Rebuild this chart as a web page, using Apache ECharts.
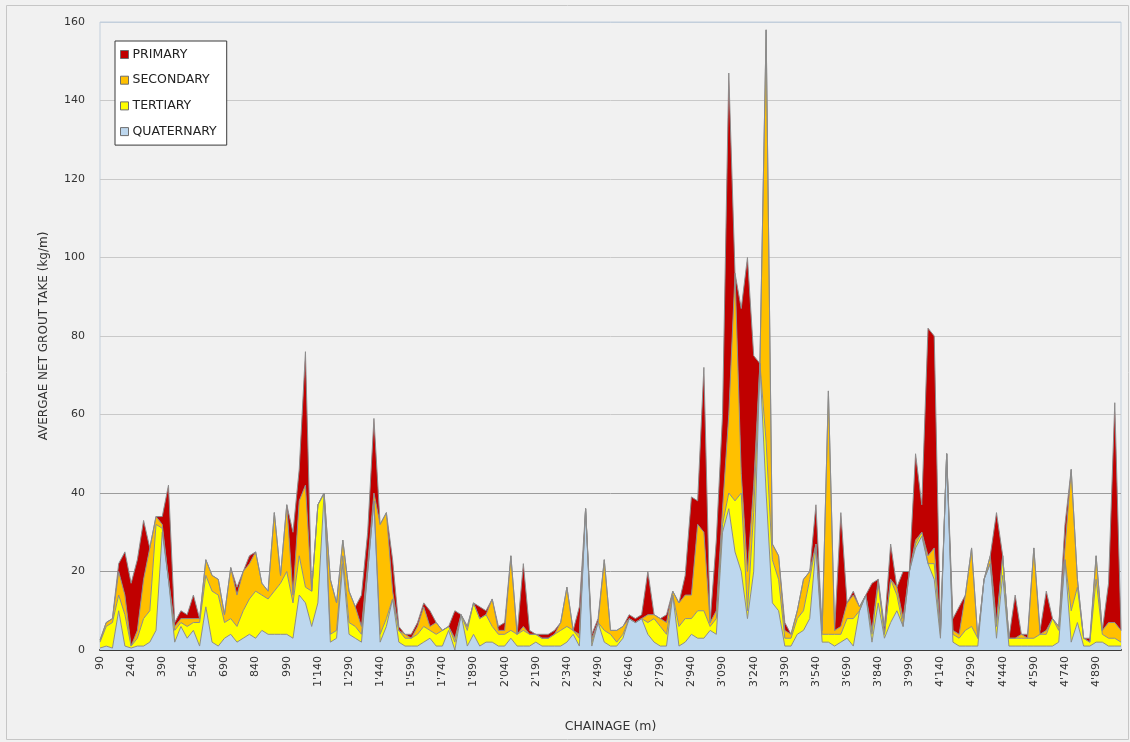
<!DOCTYPE html>
<html>
<head>
<meta charset="utf-8">
<title>Average net grout take by chainage</title>
<script src="https://cdn.jsdelivr.net/npm/echarts@6/dist/echarts.min.js"></script>
<style>
  html, body { margin: 0; padding: 0; background: #ffffff; }
  #chart { width: 1130px; height: 742px; }
</style>
</head>
<body>
<div id="chart"></div>
<script>
// Chainage (m) of each grouting section
const CHAINAGE = [
  90, 120, 150, 180, 210, 240, 270, 300, 330, 360,
  390, 420, 450, 480, 510, 540, 570, 600, 630, 660,
  690, 720, 750, 780, 810, 840, 870, 900, 930, 960,
  990, 1020, 1050, 1080, 1110, 1140, 1170, 1200, 1230, 1260,
  1290, 1320, 1350, 1380, 1410, 1440, 1470, 1500, 1530, 1560,
  1590, 1620, 1650, 1680, 1710, 1740, 1770, 1800, 1830, 1860,
  1890, 1920, 1950, 1980, 2010, 2040, 2070, 2100, 2130, 2160,
  2190, 2220, 2250, 2280, 2310, 2340, 2370, 2400, 2430, 2460,
  2490, 2520, 2550, 2580, 2610, 2640, 2670, 2700, 2730, 2760,
  2790, 2820, 2850, 2880, 2910, 2940, 2970, 3000, 3030, 3060,
  3090, 3120, 3150, 3180, 3210, 3240, 3270, 3300, 3330, 3360,
  3390, 3420, 3450, 3480, 3510, 3540, 3570, 3600, 3630, 3660,
  3690, 3720, 3750, 3780, 3810, 3840, 3870, 3900, 3930, 3960,
  3990, 4020, 4050, 4080, 4110, 4140, 4170, 4200, 4230, 4260,
  4290, 4320, 4350, 4380, 4410, 4440, 4470, 4500, 4530, 4560,
  4590, 4620, 4650, 4680, 4710, 4740, 4770, 4800, 4830, 4860,
  4890, 4920, 4950, 4980, 5010
];

// Average net grout take (kg/m) per grouting stage
const QUATERNARY = [
  0.5, 1, 0.5, 10, 1, 0.5, 1, 1, 2, 5,
  30, 18, 2, 6, 3, 5, 1, 11, 2, 1,
  3, 4, 2, 3, 4, 3, 5, 4, 4, 4,
  4, 3, 14, 12, 6, 12, 40, 2, 3, 22,
  4, 3, 2, 20, 38, 2, 6, 13, 2, 1,
  1, 1, 2, 3, 1, 1, 5, 0, 9, 1,
  4, 1, 2, 2, 1, 1, 3, 1, 1, 1,
  2, 1, 1, 1, 1, 2, 4, 1, 36, 1,
  7, 2, 1, 1, 3, 8, 7, 8, 4, 2,
  1, 1, 14, 1, 2, 4, 3, 3, 5, 4,
  30, 36, 25, 20, 8, 20, 73, 40, 12, 10,
  1, 1, 4, 5, 8, 26, 2, 2, 1, 2,
  3, 1, 10, 14, 2, 12, 3, 7, 10, 6,
  20, 26, 29, 22, 18, 3, 50, 2, 1, 1,
  1, 1, 18, 22, 3, 19, 1, 1, 1, 1,
  1, 1, 1, 1, 2, 23, 2, 7, 1, 1,
  2, 2, 1, 1, 1
];
const TERTIARY = [
  1.5, 5, 6.5, 4, 8, 0.5, 2, 7, 8, 27,
  1, 0, 3, 1, 3, 2, 6, 8, 13, 13,
  4, 4, 4, 7, 9, 12, 9, 9, 11, 13,
  16, 9, 10, 4, 9, 25, 0, 2, 2, 2,
  3, 3, 2, 0, 0, 2, 2, 0, 3, 2,
  2, 3, 4, 2, 3, 4, 1, 2, 0, 4,
  8, 7, 7, 4, 3, 3, 2, 3, 4, 3,
  2, 2, 2, 3, 4, 4, 1, 2, 0, 1,
  0, 3, 3, 1, 1, 0, 0, 0, 3, 6,
  5, 3, 0, 5, 6, 4, 7, 7, 1, 4,
  2, 4, 13, 20, 2, 15, 0, 13, 11, 8,
  2, 2, 4, 5, 10, 1, 2, 2, 3, 2,
  5, 7, 0, 0, 2, 5, 1, 11, 4, 0,
  0, 1, 1, 0, 4, 1, 0, 2, 2, 4,
  5, 2, 0, 0, 3, 5, 2, 2, 2, 2,
  2, 3, 3, 7, 3, 0, 8, 9, 2, 1,
  16, 2, 2, 2, 1
];
const SECONDARY = [
  0.5, 1, 1, 6, 5, 0, 2, 10, 16, 2,
  1, 0, 1, 1, 2, 1, 1, 4, 4, 4,
  2, 13, 8, 10, 9, 10, 3, 2, 20, 2,
  17, 2, 14, 26, 0, 0, 0, 14, 7, 4,
  8, 5, 2, 2, 2, 28, 27, 2, 0, 1,
  0, 2, 5, 1, 3, 0, 0, 1, 0, 1,
  0, 0, 0, 7, 1, 1, 19, 0, 1, 0,
  0, 0, 0, 0, 2, 10, 0, 1, 0, 1,
  0, 18, 1, 3, 2, 0, 0, 0, 2, 1,
  2, 3, 1, 6, 6, 6, 22, 20, 1, 2,
  4, 20, 58, 5, 10, 7, 0, 105, 4, 6,
  2, 1, 2, 8, 2, 0, 1, 62, 1, 2,
  4, 6, 1, 0, 1, 1, 0, 0, 2, 2,
  0, 1, 0, 2, 4, 1, 0, 1, 1, 9,
  20, 0, 0, 2, 1, 0, 0, 0, 1, 0,
  23, 0, 1, 0, 1, 3, 36, 2, 0, 0,
  6, 1, 4, 4, 3
];
const PRIMARY = [
  0, 0, 0, 2, 11, 16, 18, 15, 0, 0,
  2, 24, 1, 2, 1, 6, 0, 0, 0, 0,
  0, 0, 2, 0, 2, 0, 0, 0, 0, 0,
  0, 16, 8, 34, 0, 0, 0, 0, 0, 0,
  0, 0, 8, 8, 19, 0, 0, 8, 1, 0,
  1, 1, 1, 4, 0, 0, 0, 7, 0, 0,
  0, 3, 1, 0, 1, 2, 0, 0, 16, 1,
  0, 1, 1, 1, 0, 0, 0, 7, 0, 1,
  1, 0, 0, 0, 0, 1, 1, 1, 11, 0,
  0, 2, 0, 0, 5, 25, 6, 42, 0, 18,
  24, 87, 0, 42, 80, 33, 0, 0, 0, 0,
  2, 0, 0, 0, 0, 10, 0, 0, 0, 29,
  0, 1, 0, 0, 12, 0, 2, 9, 0, 12,
  0, 22, 7, 58, 54, 0, 0, 3, 7, 0,
  0, 0, 0, 0, 28, 0, 0, 11, 0, 1,
  0, 1, 10, 0, 0, 6, 0, 0, 0, 1,
  0, 0, 10, 56, 0
];

const Y_TICKS = [0, 20, 40, 60, 80, 100, 120, 140, 160];

const FONT = 'DejaVu Sans';

// Chainage label with an apostrophe as thousands separator, e.g. 1'140
function chainageLabel(v) {
  const n = Number(v);
  if (n < 1000) return String(n);
  const rest = String(n % 1000).padStart(3, '0');
  return Math.floor(n / 1000) + "'" + rest;
}

function stageSeries(name, data, color) {
  return {
    name: name,
    type: 'line',
    stack: 'take',
    data: data,
    showSymbol: false,
    symbol: 'none',
    smooth: false,
    lineStyle: { color: '#8c8c8c', width: 1 },
    itemStyle: { color: color, borderColor: '#777777', borderWidth: 1 },
    areaStyle: { color: color, opacity: 1 },
    emphasis: { disabled: true }
  };
}

const chart = echarts.init(document.getElementById('chart'), null, { renderer: 'canvas' });

chart.setOption({
  animation: false,
  backgroundColor: '#f1f1f1',
  textStyle: { fontFamily: FONT },
  graphic: [{
    type: 'rect',
    shape: { x: 6.5, y: 5.5, width: 1122, height: 734 },
    style: { fill: 'none', stroke: '#c6c6c6', lineWidth: 1 },
    silent: true,
    z: 0
  }],
  grid: {
    left: 100, right: 9, top: 22, bottom: 92,
    show: true,
    backgroundColor: '#f1f1f1',
    borderColor: '#c3cfdc',
    borderWidth: 1
  },
  legend: {
    orient: 'vertical',
    left: 115,
    top: 41,
    padding: [7, 10, 7, 5],
    itemGap: 12.7,
    itemWidth: 8,
    itemHeight: 8,
    icon: 'rect',
    backgroundColor: '#ffffff',
    borderColor: '#3a3a3a',
    borderWidth: 1,
    data: ['PRIMARY', 'SECONDARY', 'TERTIARY', 'QUATERNARY'],
    textStyle: { fontFamily: FONT, fontSize: 12.5, color: '#222222', padding: [0, 0, 0, -1] },
    itemStyle: { borderColor: '#6e6e6e', borderWidth: 1 },
    selectedMode: false
  },
  xAxis: {
    type: 'category',
    data: CHAINAGE,
    boundaryGap: false,
    name: 'CHAINAGE (m)',
    nameLocation: 'middle',
    nameGap: 70,
    nameTextStyle: { fontFamily: FONT, fontSize: 12.5, color: '#333333' },
    axisLine: { show: true, lineStyle: { color: '#3c3c3c', width: 2 } },
    axisTick: { show: false },
    axisLabel: {
      interval: 4,
      rotate: 90,
      margin: 6,
      fontFamily: FONT,
      fontSize: 11,
      color: '#333333',
      formatter: chainageLabel
    },
    splitLine: { show: false }
  },
  yAxis: {
    type: 'value',
    min: Y_TICKS[0],
    max: Y_TICKS[Y_TICKS.length - 1],
    interval: Y_TICKS[1] - Y_TICKS[0],
    name: 'AVERGAE NET GROUT TAKE (kg/m)',
    nameLocation: 'middle',
    nameGap: 50,
    nameTextStyle: { fontFamily: FONT, fontSize: 12, color: '#333333' },
    axisLine: { show: false },
    axisTick: { show: false },
    axisLabel: { margin: 15, fontFamily: FONT, fontSize: 11, color: '#333333' },
    splitLine: {
      show: true,
      lineStyle: {
        width: 1,
        color: ['#9c9c9c', '#9c9c9c', '#9c9c9c', '#c9c9c9', '#c9c9c9', '#c9c9c9', '#c9c9c9', '#c9c9c9', '#c3cfdc']
      }
    }
  },
  series: [
    stageSeries('QUATERNARY', QUATERNARY, '#bdd7ee'),
    stageSeries('TERTIARY', TERTIARY, '#ffff00'),
    stageSeries('SECONDARY', SECONDARY, '#ffc000'),
    stageSeries('PRIMARY', PRIMARY, '#c00000')
  ]
});
</script>
</body>
</html>
